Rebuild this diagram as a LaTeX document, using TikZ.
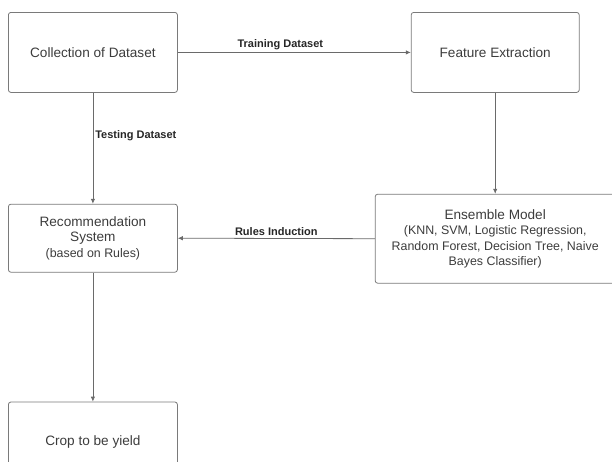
\documentclass[tikz,border=0pt]{standalone}
\usepackage{fontspec}
\setmainfont{Liberation Sans}
\usepackage{xcolor}
\definecolor{boxgray}{HTML}{7A7A7A}
\definecolor{linegray}{HTML}{6A6A6A}
\definecolor{textgray}{HTML}{3C3C3C}
\usepackage{tikz}
\usetikzlibrary{positioning, arrows.meta}

\begin{document}
\begin{tikzpicture}[>={Latex[length=5pt,width=4.5pt]}]
    \tikzstyle{stagebox} = [draw=boxgray, line width=0.8pt, rounded corners=2.5pt, text=textgray, align=center, inner sep=3pt, font=\fontsize{13.6}{15.5}\selectfont]
    \tikzstyle{flowline} = [->, linegray, line width=0.8pt]
    \tikzstyle{flowlabel} = [text=black!85, inner sep=2pt, font=\fontsize{11}{13}\selectfont\bfseries]
    \newcommand{\subtext}{\fontsize{12.4}{15.3}\selectfont}

    \useasboundingbox (0,0) rectangle (612pt,-461pt);

    \node [stagebox, anchor=north west, minimum width=169pt, minimum height=80pt] (coll) at (8pt,-12pt) {Collection of Dataset};
    \node [stagebox, anchor=west, minimum width=168pt, minimum height=80pt] (feat) at ([xshift=233pt]coll.east) {Feature Extraction};
    \node [stagebox, anchor=north, minimum width=169pt, minimum height=68pt] (recsys) at ([yshift=-111pt]coll.south) {Recommendation\\System\\{\subtext (based on Rules)}};
    \node [stagebox, anchor=north, minimum width=240pt, minimum height=89pt] (ensemble) at ([yshift=-101pt]feat.south) {Ensemble Model\\{\subtext (KNN, SVM, Logistic Regression,}\\{\subtext Random Forest, Decision Tree, Naive}\\{\subtext Bayes Classifier)}};
    \node [stagebox, anchor=north, minimum width=169pt, minimum height=80pt] (crop) at ([yshift=-129pt]recsys.south) {Crop to be yield};

    \draw [flowline] (coll.east) -- node [flowlabel, above, pos=0.44] (trainlbl) {Training Dataset} (feat.west);
    \draw [flowline] (coll.south) -- node [flowlabel, right, pos=0.39] (testlbl) {Testing Dataset} (recsys.north);
    \draw [flowline] (feat.south) -- (ensemble.north);
    \draw [flowline] (ensemble.west) -- node [flowlabel, above, pos=0.5] (ruleslbl) {Rules Induction} (recsys.east);
    \draw [flowline] (recsys.south) -- (crop.north);

\end{tikzpicture}
\end{document}
